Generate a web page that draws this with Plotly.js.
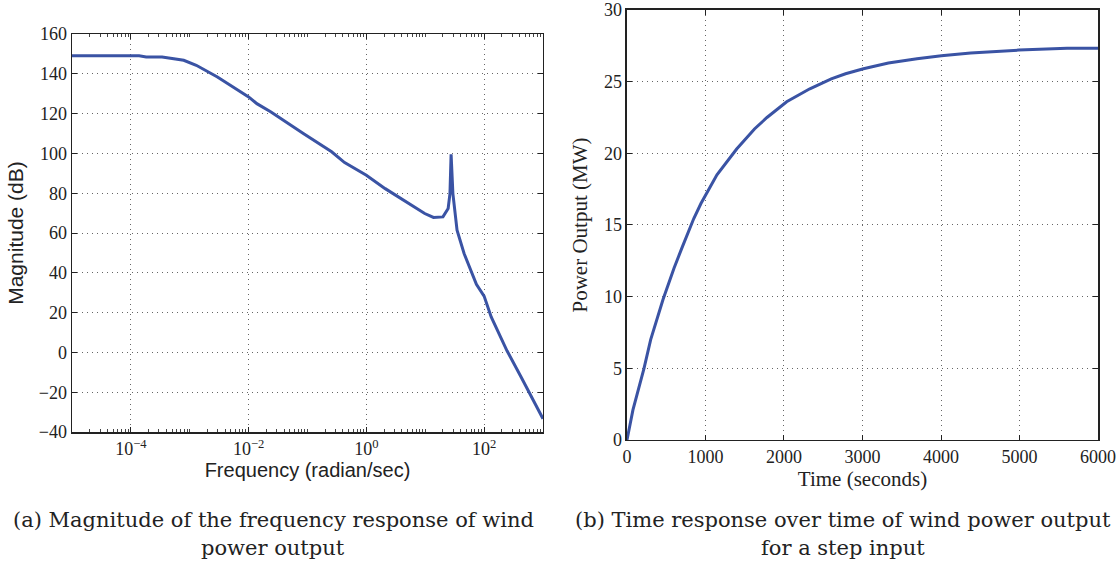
<!DOCTYPE html>
<html>
<head>
<meta charset="utf-8">
<script src="https://cdn.plot.ly/plotly-3.0.1.min.js"></script>
<style>html,body{margin:0;padding:0;background:#fff;}#chart{width:1120px;height:564px;}</style>
</head>
<body>
<div id="chart"></div>
<script>
// Panel (a): magnitude of frequency response
var freq = [1e-5, 1.38e-4, 1.82e-4, 3.39e-4, 7.9e-4, 1.29e-3, 2.95e-3, 5.9e-3, 1.0e-2, 1.38e-2, 2.4e-2, 8.5e-2, 0.257, 0.427, 1, 2.09, 4.27, 9.8, 13.8, 20, 24.5, 26.3, 27.5, 29.5, 34.7, 45.7, 74, 100, 132, 245, 427, 1000];
var magDB = [149.1, 149.1, 148.5, 148.5, 146.8, 144.3, 138.4, 132.6, 128.4, 125, 120.8, 110, 100.8, 95.4, 89, 82.3, 76.5, 69.8, 67.8, 68.1, 72.3, 79.8, 99.6, 79.8, 61.4, 49.7, 34.2, 28.3, 17.8, 0.8, -12.5, -33.3];
var freqTickVals = [1e-4, 1e-2, 1, 1e2];
var freqTickText = ['10<sup>\u22124</sup>', '10<sup>\u22122</sup>', '10<sup>0</sup>', '10<sup>2</sup>'];
var magTickVals = [-40, -20, 0, 20, 40, 60, 80, 100, 120, 140, 160];

// Panel (b): step response
var timeSec = [0, 25, 76, 217, 302, 459, 491, 600, 700, 851, 942, 1146, 1397, 1624, 1783, 2034, 2329, 2602, 2784, 3012, 3330, 3694, 4004, 4377, 4991, 5605, 6000];
var powerMW = [0, 0.7, 2.1, 5.0, 7.0, 9.8, 10.3, 12.0, 13.4, 15.45, 16.5, 18.5, 20.3, 21.7, 22.5, 23.6, 24.5, 25.2, 25.55, 25.9, 26.3, 26.6, 26.8, 27.0, 27.2, 27.33, 27.33];
var timeTickVals = [0, 1000, 2000, 3000, 4000, 5000, 6000];
var powerTickVals = [0, 5, 10, 15, 20, 25, 30];

var captionA = ['(a) Magnitude of the frequency response of wind', 'power output'];
var captionB = ['(b) Time response over time of wind power output', 'for a step input'];

var lineColor = '#3a53a4';
var serif = 'Liberation Serif, Times New Roman, serif';
var capSerif = 'DejaVu Serif, serif';
var sans = 'Liberation Sans, Arial, sans-serif';

var traces = [
  {x: freq, y: magDB, xaxis: 'x', yaxis: 'y', mode: 'lines', line: {color: lineColor, width: 3}, hoverinfo: 'skip'},
  {x: timeSec, y: powerMW, xaxis: 'x2', yaxis: 'y2', mode: 'lines', line: {color: lineColor, width: 3}, hoverinfo: 'skip'}
];

var axCommon = {
  showline: true, linecolor: '#222', linewidth: 1.5, mirror: 'ticks',
  ticks: 'inside', ticklen: 5, tickcolor: '#222', tickwidth: 1,
  showgrid: true, gridcolor: '#666', griddash: '1px,4px', gridwidth: 1,
  zeroline: false, tickfont: {family: serif, size: 18, color: '#222'}
};
function ax(o) { return Object.assign({}, axCommon, o); }

function cap(text, x, y) {
  return {text: text, x: x/1120, y: 1 - y/564, xref: 'paper', yref: 'paper', xanchor: 'center', yanchor: 'middle',
    showarrow: false, font: {family: capSerif, size: 21, color: '#222'}};
}

var layout = {
  width: 1120, height: 564,
  margin: {l: 0, r: 0, t: 0, b: 0},
  paper_bgcolor: '#fff', plot_bgcolor: '#fff',
  showlegend: false,
  xaxis: ax({domain: [0.0643, 0.4848], type: 'log', range: [-5, 3], anchor: 'y',
    tickmode: 'array', tickvals: freqTickVals, ticktext: freqTickText,
    minor: {dtick: 'D1', ticks: 'inside', ticklen: 3, tickcolor: '#444', tickwidth: 1, showgrid: false},
    title: {text: 'Frequency (radian/sec)', font: {family: sans, size: 20, color: '#222'}, standoff: 5}}),
  yaxis: ax({domain: [0.234, 0.9397], range: [-40, 160], anchor: 'x',
    tickmode: 'array', tickvals: magTickVals,
    title: {text: 'Magnitude (dB)', font: {family: sans, size: 21, color: '#222'}, standoff: 9}}),
  xaxis2: ax({domain: [0.5598, 0.9804], range: [0, 6000], anchor: 'y2',
    tickmode: 'array', tickvals: timeTickVals,
    title: {text: 'Time (seconds)', font: {family: serif, size: 21, color: '#222'}, standoff: 1}}),
  yaxis2: ax({domain: [0.2199, 0.9823], range: [0, 30], anchor: 'x2',
    tickmode: 'array', tickvals: powerTickVals,
    title: {text: 'Power Output (MW)', font: {family: serif, size: 21, color: '#222'}, standoff: 10}}),
  annotations: [
    cap(captionA[0], 273, 520), cap(captionA[1], 273, 548),
    cap(captionB[0], 843, 520), cap(captionB[1], 843, 548)
  ]
};

Plotly.newPlot('chart', traces, layout, {staticPlot: true, displayModeBar: false});
</script>
</body>
</html>
